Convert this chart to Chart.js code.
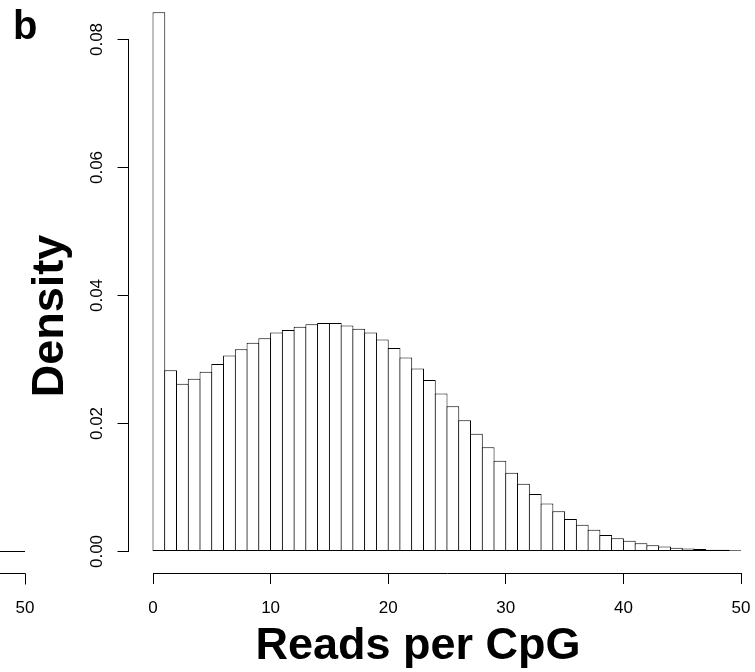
<!DOCTYPE html>
<html>
<head>
<meta charset="utf-8">
<script src="https://cdn.jsdelivr.net/npm/chart.js@4.4.1/dist/chart.umd.min.js"></script>
<style>
  html, body { margin: 0; padding: 0; background: #fff; }
  #wrap { width: 755px; height: 672px; position: relative; }
</style>
</head>
<body>
<div id="wrap"><canvas id="HistChart"></canvas></div>
<script>
// histogram bins are 1 read wide, starting at these values
const binStarts = [];
for (let i = 0; i < 50; i++) binStarts.push(i);

const densities = [
    0.0841, 0.0282, 0.0261, 0.0269, 0.0280, 0.0292, 0.0305, 0.0315, 0.0325, 0.0332,
    0.0341, 0.0345, 0.0350, 0.0354, 0.0356, 0.0356, 0.0352, 0.0347, 0.0341, 0.0330,
    0.0317, 0.0302, 0.0285, 0.0267, 0.0246, 0.0226, 0.0204, 0.0183, 0.0162, 0.0141,
    0.0122, 0.0105, 0.0089, 0.0074, 0.0062, 0.0050, 0.0041, 0.0033, 0.0025, 0.0020,
    0.0016, 0.0012, 0.0009, 0.0007, 0.0005, 0.0004, 0.0003, 0.0002, 0.0002, 0.0001
];

const xTickValues = [0, 10, 20, 30, 40, 50];
const yTickValues = [0, 0.02, 0.04, 0.06, 0.08];
const yTickLabels = ["0.00", "0.02", "0.04", "0.06", "0.08"];
const xTitle = "Reads per CpG";
const yTitle = "Density";
const panelLabel = "b";
// what is left of the neighbouring panel at the left edge
const prevPanelTick = "50";

const FONT = "'Liberation Sans', Arial, Helvetica, sans-serif";

// R style axes: lines only span the tick range, sit apart from the bars
const rAxes = {
    id: 'rAxes',
    afterDraw(chart) {
        const ctx = chart.ctx;
        const xs = chart.scales.x;
        const ys = chart.scales.y;
        const area = chart.chartArea;

        ctx.save();
        ctx.strokeStyle = '#000';
        ctx.fillStyle = '#000';
        ctx.lineWidth = 1;

        // x axis line
        let yLine = Math.round(area.bottom) + 0.5;
        ctx.beginPath();
        ctx.moveTo(Math.round(xs.getPixelForValue(xTickValues[0])), yLine);
        ctx.lineTo(Math.round(xs.getPixelForValue(xTickValues[xTickValues.length - 1])) + 1, yLine);
        ctx.stroke();

        // y axis line + ticks
        let xLine = Math.round(area.left) + 0.5;
        ctx.beginPath();
        ctx.moveTo(xLine, Math.round(ys.getPixelForValue(yTickValues[0])) + 1);
        ctx.lineTo(xLine, Math.round(ys.getPixelForValue(yTickValues[yTickValues.length - 1])));
        ctx.stroke();

        ctx.font = '17px ' + FONT;
        ctx.textAlign = 'center';
        ctx.textBaseline = 'middle';
        for (let i = 0; i < yTickValues.length; i++) {
            let py = Math.round(ys.getPixelForValue(yTickValues[i])) + 0.5;
            ctx.beginPath();
            ctx.moveTo(xLine, py);
            ctx.lineTo(xLine - 11, py);
            ctx.stroke();

            ctx.save();
            ctx.translate(xLine - 31, py);
            ctx.rotate(-Math.PI / 2);
            ctx.fillText(yTickLabels[i], 0, 0);
            ctx.restore();
        }

        // axis titles
        ctx.font = 'bold 45px ' + FONT;
        ctx.textBaseline = 'alphabetic';
        ctx.fillText(xTitle, 418, 659);

        ctx.save();
        ctx.translate(63, 316);
        ctx.rotate(-Math.PI / 2);
        ctx.fillText(yTitle, 0, 0);
        ctx.restore();

        // panel letter
        ctx.textAlign = 'left';
        ctx.font = 'bold 40px ' + FONT;
        ctx.fillText(panelLabel, 13, 39);

        // edge of panel a
        let baseY = Math.round(ys.getPixelForValue(0)) + 0.5;
        ctx.beginPath();
        ctx.moveTo(0, baseY);
        ctx.lineTo(25, baseY);
        ctx.moveTo(0, yLine);
        ctx.lineTo(25.5, yLine);
        ctx.lineTo(25.5, yLine + 11);
        ctx.stroke();
        ctx.font = '17px ' + FONT;
        ctx.textAlign = 'center';
        ctx.textBaseline = 'middle';
        ctx.fillText(prevPanelTick, 25, 608);

        ctx.restore();
    }
};

const histData = binStarts.map((b, i) => ({ x: b + 0.5, y: densities[i] }));

const config = {
    type: 'bar',
    data: {
        datasets: [{
            label: yTitle,
            data: histData,
            backgroundColor: '#ffffff',
            borderColor: '#000000',
            borderWidth: 1,
            borderSkipped: false,
            inflateAmount: 0,
            // a touch wider than the bin so neighbouring edges share one line
            barPercentage: 1.085,
            categoryPercentage: 1.0
        }]
    },
    options: {
        responsive: true,
        maintainAspectRatio: false,
        animation: false,
        layout: {
            padding: { top: 10, right: 14, bottom: 0, left: 0 }
        },
        plugins: {
            legend: { display: false },
            tooltip: { enabled: false }
        },
        scales: {
            x: {
                type: 'linear',
                offset: false,
                min: -2.126,
                max: 50,
                afterFit: function (scale) {
                    scale.height = 99;
                    scale.paddingLeft = 0;
                    scale.paddingRight = 0;
                },
                afterBuildTicks: function (scale) {
                    scale.ticks = xTickValues.map(v => ({ value: v }));
                },
                border: { display: false },
                grid: {
                    display: true,
                    offset: false,
                    drawOnChartArea: false,
                    drawTicks: true,
                    tickLength: 11,
                    tickWidth: 1,
                    tickColor: '#000'
                },
                ticks: {
                    autoSkip: false,
                    maxRotation: 0,
                    padding: 14,
                    color: '#000',
                    font: { family: FONT, size: 17 }
                }
            },
            y: {
                type: 'linear',
                min: -0.003434,
                max: 0.08445,
                afterFit: function (scale) { scale.width = 128; },
                border: { display: false },
                grid: { display: false },
                ticks: { display: false }
            }
        }
    },
    plugins: [rAxes]
};

new Chart(document.getElementById("HistChart"), config);
</script>
</body>
</html>
